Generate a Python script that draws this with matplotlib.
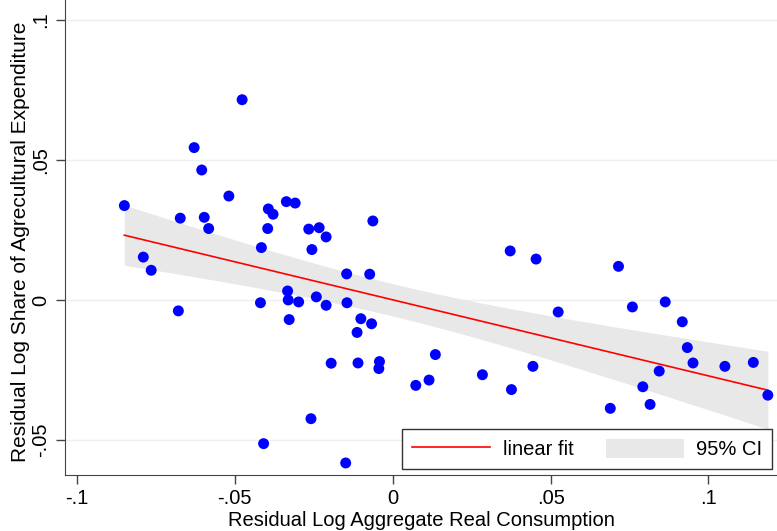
import numpy as np
import matplotlib.pyplot as plt
from matplotlib.patches import Patch
from matplotlib.lines import Line2D

plt.rcParams['font.family'] = ['Liberation Sans', 'DejaVu Sans']

# residual log aggregate real consumption
cons = [-0.0850, -0.0790, -0.0765, -0.0679, -0.0673, -0.0629, -0.0605, -0.0597,
        -0.0583, -0.0519, -0.0477, -0.0394, -0.0379, -0.0396, -0.0416, -0.0337,
        -0.0309, -0.0266, -0.0233, -0.0211, -0.0256, -0.0146, -0.0073, -0.0063,
        -0.0419, -0.0333, -0.0331, -0.0298, -0.0242, -0.0211, -0.0145, -0.0328,
        -0.0101, -0.0067, -0.0113, -0.0195, -0.0110, -0.0042, -0.0044, -0.0259,
        -0.0409, -0.0149, 0.0135, 0.0073, 0.0115, 0.0284, 0.0372, 0.0454,
        0.0376, 0.0444, 0.0524, 0.0715, 0.0759, 0.0863, 0.0917, 0.0933,
        0.0951, 0.1052, 0.1142, 0.0844, 0.0792, 0.1188, 0.0689, 0.0815]

# residual log share of agricultural expenditure
share = [0.0337, 0.0153, 0.0106, -0.0039, 0.0292, 0.0544, 0.0464, 0.0295,
         0.0255, 0.0371, 0.0715, 0.0325, 0.0306, 0.0255, 0.0187, 0.0351,
         0.0346, 0.0253, 0.0258, 0.0225, 0.0180, 0.0093, 0.0092, 0.0282,
         -0.0010, 0.0032, 0.0000, -0.0007, 0.0011, -0.0019, -0.0010, -0.0070,
         -0.0067, -0.0085, -0.0116, -0.0226, -0.0225, -0.0220, -0.0245, -0.0424,
         -0.0513, -0.0582, -0.0195, -0.0305, -0.0286, -0.0267, 0.0175, 0.0146,
         -0.0320, -0.0237, -0.0043, 0.0120, -0.0025, -0.0007, -0.0078, -0.0170,
         -0.0225, -0.0237, -0.0223, -0.0254, -0.0310, -0.0340, -0.0387, -0.0373]

xticks = [-0.1, -0.05, 0, 0.05, 0.1]
xlabels = ['-.1', '-.05', '0', '.05', '.1']
yticks = [-0.05, 0, 0.05, 0.1]
ylabels = ['-.05', '0', '.05', '.1']

x = np.array(cons)
y = np.array(share)

# linear fit with 95% CI of the mean prediction
n = len(x)
slope, intercept = np.polyfit(x, y, 1)
resid = y - (intercept + slope * x)
s = np.sqrt(np.sum(resid ** 2) / (n - 2))
t = 1.999  # t(0.975, df=62)
xs = np.linspace(x.min(), x.max(), 200)
fit = intercept + slope * xs
se = s * np.sqrt(1 / n + (xs - x.mean()) ** 2 / np.sum((x - x.mean()) ** 2))

fig = plt.figure(figsize=(7.77, 5.31), dpi=100)
ax = fig.add_axes([65 / 777, 56 / 531, 712 / 777, 475 / 531])

ax.fill_between(xs, fit - t * se, fit + t * se, color='#e8e8e8', lw=0, zorder=1)
ax.plot(xs, fit, color='red', lw=1.2, zorder=2)
ax.scatter(x, y, s=62, color='#0000ff', edgecolors='none', zorder=3)

ax.set_xlim(-0.1038, 0.1217)
ax.set_ylim(-0.0625, 0.1071)
ax.set_xticks(xticks)
ax.set_xticklabels(xlabels)
ax.set_yticks(yticks)
ax.set_yticklabels(ylabels, rotation=90, va='center')
ax.tick_params(labelsize=14.5, length=6.5, width=1, color='#444444')
ax.tick_params(axis='y', pad=4)
ax.yaxis.grid(True, color='#eaf0f3', lw=1)
ax.set_axisbelow(True)

for side in ['top', 'right']:
    ax.spines[side].set_visible(False)
for side in ['left', 'bottom']:
    ax.spines[side].set_color('#444444')

ax.set_xlabel('Residual Log Aggregate Real Consumption', fontsize=14.5, labelpad=2)
ax.set_ylabel('Residual Log Share of Agrecultural Expenditure', fontsize=15)
ax.yaxis.set_label_coords(-0.0495, 0.4905)

handles = [Line2D([], [], color='red', lw=1.2),
           Patch(facecolor='#e8e8e8', edgecolor='none')]
leg = ax.legend(handles, ['linear fit', '95% CI'], ncol=2, fontsize=14.5,
                loc='lower right', bbox_to_anchor=(0.9935, 0.012),
                fancybox=False, framealpha=1, edgecolor='#333333',
                handlelength=3.9, handleheight=1.1, columnspacing=1.6,
                borderpad=0.5, borderaxespad=0, handletextpad=0.6)
leg.get_frame().set_linewidth(1)

plt.savefig('out.png', dpi=100)
